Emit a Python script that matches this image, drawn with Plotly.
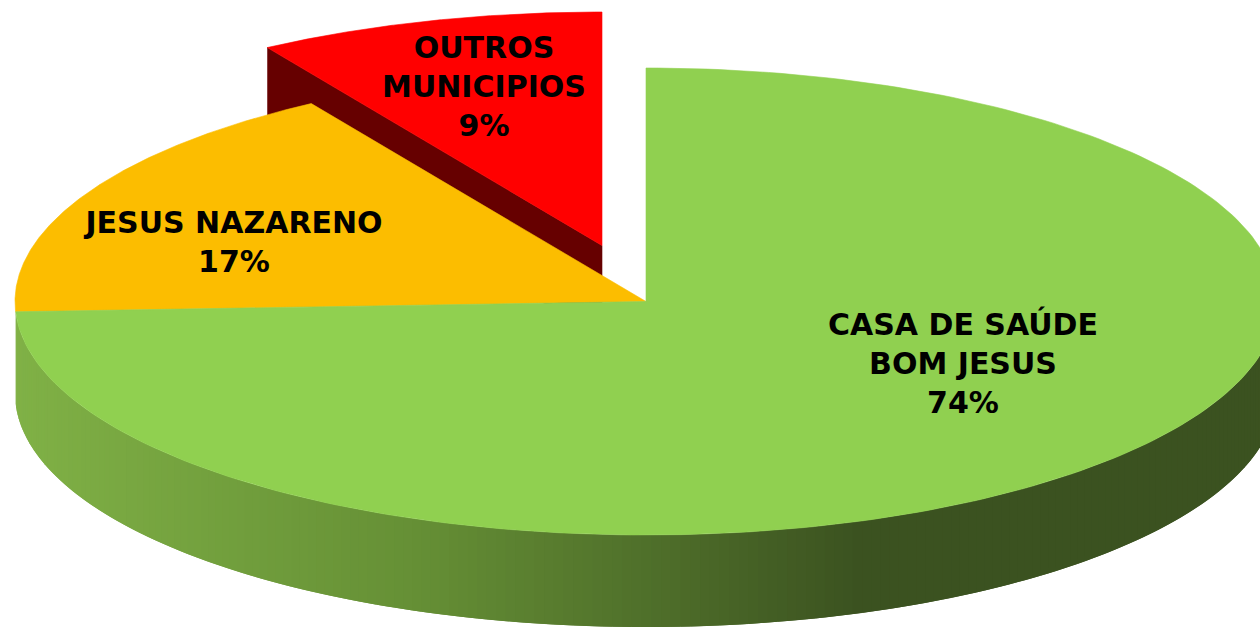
import numpy as np
import plotly.graph_objects as go

categories = ["CASA DE SAÚDE<br>BOM JESUS", "JESUS NAZARENO", "OUTROS<br>MUNICIPIOS"]
values = [74.3, 16.8, 8.9]
top_colors = ["#90D050", "#FCBD00", "#FF0000"]
side_colors = ["#7FB146", "#B38600", "#660000"]
label_x = [963, 234, 484]
label_y = [366, 245, 89]
explode_dx = [0, 0, -44]
explode_dy = [0, 0, -56]

CX, CY, RX, RY, DEPTH = 646, 301.5, 631, 233.5, 92
W, H = 1260, 627
grad_x = [15, 420, 860]
grad_rgb = [(128, 177, 70), (101, 143, 53), (59, 82, 32)]


def ell(frac, dx=0, dy=0):
    t = 2 * np.pi * np.asarray(frac)
    return CX + dx + RX * np.sin(t), CY + dy - RY * np.cos(t)


def fill_trace(x, y, color, width=0.6):
    return go.Scatter(x=list(x), y=list(y), mode="lines", fill="toself", fillcolor=color,
                      line=dict(color=color, width=width), hoverinfo="skip", showlegend=False)


total = sum(values)
cum = np.concatenate([[0], np.cumsum(values)]) / total
fig = go.Figure()

# dark cut face of the exploded slice (lies beneath the yellow slice)
f = cum[2]
ex, ey = ell(f, explode_dx[2], explode_dy[2])
ax, ay = CX + explode_dx[2], CY + explode_dy[2]
fig.add_trace(fill_trace([ex, ax, ax, ex], [ey, ay, ay + DEPTH, ey + DEPTH], side_colors[2]))

# green rim, shaded by overlapping bands from right to left so no seams show
rim = np.linspace(cum[1], 0.25, 800)
rx_, ry_ = ell(rim)
for i in range(0, len(rim) - 1, 4):
    j = min(i + 8, len(rim) - 1)
    mid = rx_[min(i + 2, len(rim) - 1)]
    rgb = [int(round(np.interp(mid, grad_x, [c[k] for c in grad_rgb]))) for k in range(3)]
    col = f"rgb({rgb[0]},{rgb[1]},{rgb[2]})"
    xs = rx_[i:j + 1]
    ys = ry_[i:j + 1]
    fig.add_trace(fill_trace(np.r_[xs, xs[::-1]], np.r_[ys, ys[::-1] + DEPTH], col, width=0))

# top faces
for i in [2, 1, 0]:
    arc = np.linspace(cum[i], cum[i + 1], 240)
    x, y = ell(arc, explode_dx[i], explode_dy[i])
    fig.add_trace(fill_trace(np.r_[CX + explode_dx[i], x, CX + explode_dx[i]],
                             np.r_[CY + explode_dy[i], y, CY + explode_dy[i]], top_colors[i]))

labels = [f"{c}<br>{round(v)}%" for c, v in zip(categories, values)]
fig.add_trace(go.Scatter(x=label_x, y=label_y, text=labels, mode="text", textposition="middle center",
                         textfont=dict(family="DejaVu Sans", size=30, color="#000000", weight="bold"),
                         hoverinfo="skip", showlegend=False))

fig.update_layout(width=W, height=H, autosize=False, margin=dict(l=0, r=0, t=0, b=0),
                  paper_bgcolor="white", plot_bgcolor="white", showlegend=False,
                  xaxis=dict(range=[0, W], visible=False, fixedrange=True),
                  yaxis=dict(range=[H, 0], visible=False, fixedrange=True))
fig.write_html("out.html", config={"displayModeBar": False},
               post_script="document.body.style.margin='0';document.body.style.overflow='hidden';")
